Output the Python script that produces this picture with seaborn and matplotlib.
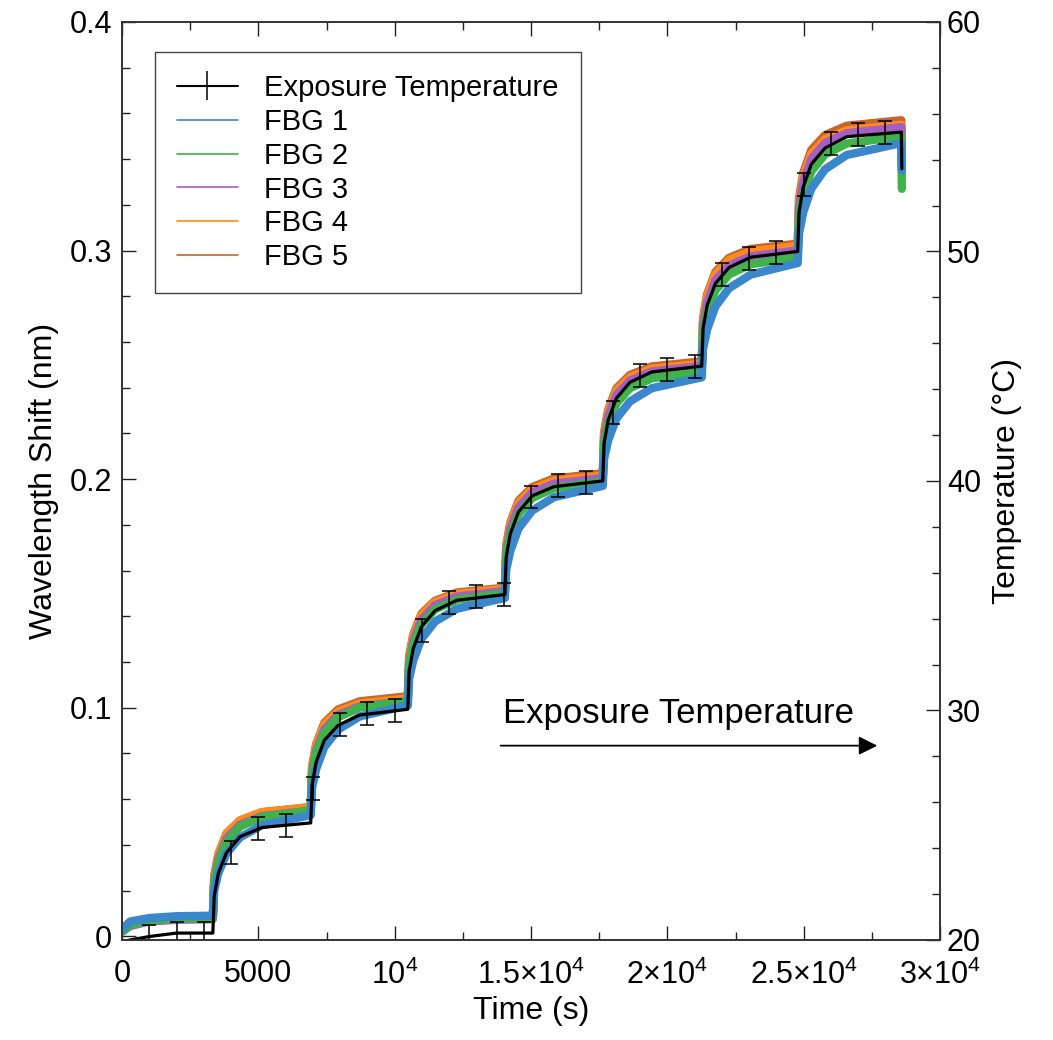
import matplotlib
matplotlib.use('Agg')
import matplotlib.pyplot as plt
from matplotlib.ticker import MultipleLocator, FixedLocator, FixedFormatter
import pandas as pd
import seaborn as sns

# Sample times (s), shared by the FBG records and the exposure temperature
time_s = [0, 300, 1000, 2000, 3320,
          3330, 3380, 3530, 3830, 4330, 5130, 6910,
          6920, 6970, 7120, 7420, 7920, 8720, 10470,
          10480, 10530, 10680, 10980, 11480, 12280, 14030,
          14040, 14090, 14240, 14540, 15040, 15840, 17620,
          17630, 17680, 17830, 18130, 18630, 19430, 21250,
          21260, 21310, 21460, 21760, 22260, 23060, 24770,
          24780, 24830, 24980, 25280, 25780, 26580, 28580,
          28600]

# Wavelength shift (nm) of each grating
fbg1 = [0.003, 0.0065, 0.008, 0.0088, 0.009,
        0.009, 0.020, 0.0275, 0.0363, 0.0433, 0.0486, 0.053,
        0.053, 0.065, 0.0732, 0.0828, 0.0904, 0.0962, 0.101,
        0.101, 0.1128, 0.1207, 0.1301, 0.1377, 0.1433, 0.148,
        0.148, 0.1603, 0.1686, 0.1784, 0.1862, 0.1921, 0.197,
        0.197, 0.2089, 0.217, 0.2265, 0.234, 0.2398, 0.2445,
        0.2445, 0.257, 0.2655, 0.2755, 0.2835, 0.2895, 0.2945,
        0.2945, 0.3076, 0.3166, 0.3271, 0.3355, 0.3418, 0.347,
        0.335]
fbg2 = [0.002, 0.005, 0.007, 0.0078, 0.008,
        0.008, 0.0235, 0.0324, 0.0414, 0.048, 0.0522, 0.055,
        0.055, 0.0708, 0.080, 0.0891, 0.0958, 0.1001, 0.103,
        0.103, 0.1185, 0.1274, 0.1364, 0.143, 0.1472, 0.150,
        0.150, 0.1662, 0.1755, 0.1848, 0.1917, 0.1961, 0.199,
        0.199, 0.2148, 0.224, 0.2331, 0.2398, 0.2441, 0.247,
        0.247, 0.2635, 0.273, 0.2825, 0.2895, 0.294, 0.297,
        0.297, 0.3145, 0.3246, 0.3346, 0.342, 0.3468, 0.350,
        0.327]
fbg3 = [0.002, 0.0045, 0.0065, 0.0072, 0.0075,
        0.0075, 0.0241, 0.0336, 0.0427, 0.0488, 0.0526, 0.055,
        0.055, 0.0718, 0.0814, 0.0905, 0.0968, 0.1006, 0.103,
        0.103, 0.1198, 0.1294, 0.1385, 0.1448, 0.1486, 0.151,
        0.151, 0.1683, 0.1782, 0.1876, 0.1941, 0.1980, 0.2005,
        0.2005, 0.2177, 0.2275, 0.2368, 0.2431, 0.2471, 0.2495,
        0.2495, 0.2672, 0.2773, 0.2869, 0.2934, 0.2975, 0.300,
        0.300, 0.3189, 0.3297, 0.340, 0.347, 0.3513, 0.354,
        0.336]
fbg4 = [0.002, 0.005, 0.0068, 0.0076, 0.008,
        0.008, 0.0259, 0.0356, 0.0449, 0.0507, 0.0543, 0.0565,
        0.0565, 0.0741, 0.0836, 0.0926, 0.0983, 0.1019, 0.104,
        0.104, 0.1218, 0.1314, 0.1405, 0.1462, 0.1498, 0.152,
        0.152, 0.1703, 0.1802, 0.1896, 0.1956, 0.1993, 0.2015,
        0.2015, 0.2196, 0.2294, 0.2387, 0.2446, 0.2483, 0.2505,
        0.2505, 0.2696, 0.2799, 0.2896, 0.2958, 0.2997, 0.302,
        0.302, 0.3216, 0.3322, 0.3423, 0.3486, 0.3526, 0.355,
        0.338]
fbg5 = [0.002, 0.0052, 0.007, 0.008, 0.0085,
        0.0085, 0.0263, 0.0359, 0.0450, 0.0507, 0.0543, 0.0565,
        0.0565, 0.0744, 0.0841, 0.0934, 0.0992, 0.1028, 0.105,
        0.105, 0.1226, 0.1321, 0.1411, 0.1468, 0.1504, 0.1525,
        0.1525, 0.171, 0.181, 0.1905, 0.1965, 0.2003, 0.2025,
        0.2025, 0.2206, 0.2304, 0.2397, 0.2456, 0.2493, 0.2515,
        0.2515, 0.2706, 0.2809, 0.2906, 0.2968, 0.3007, 0.303,
        0.303, 0.323, 0.3338, 0.344, 0.3505, 0.3546, 0.357,
        0.340]

# Exposure temperature (°C)
temp_c = [19.9, 20.0, 20.15, 20.3, 20.3,
          20.3, 21.9, 22.9, 23.8, 24.5, 24.9, 25.1,
          25.1, 26.75, 27.75, 28.7, 29.35, 29.8, 30.05,
          30.05, 31.7, 32.7, 33.65, 34.35, 34.8, 35.05,
          35.05, 36.7, 37.7, 38.65, 39.35, 39.75, 40.0,
          40.0, 41.65, 42.65, 43.6, 44.3, 44.75, 45.0,
          45.0, 46.65, 47.65, 48.6, 49.3, 49.75, 50.0,
          50.0, 51.7, 52.8, 53.8, 54.5, 55.0, 55.2,
          53.6]

# Error-bar samples of the exposure temperature
bar_times = [1000, 2000, 3000, 4000, 5000, 6000, 7000, 8000, 9000, 10000,
             11000, 12000, 13000, 14000, 15000, 16000, 17000, 18000, 19000,
             20000, 21000, 22000, 23000, 24000, 25000, 26000, 27000, 28000]
bar_temps = [20.15, 20.3, 20.3, 23.8, 24.85, 25.0, 26.6, 29.4, 29.85, 30.0,
             33.5, 34.7, 34.95, 35.05, 39.3, 39.8, 39.95, 43.0, 44.6,
             44.85, 45.0, 49.0, 49.7, 49.95, 52.9, 54.7, 55.1, 55.2]
bar_err = 0.5

sensors = ['FBG 1', 'FBG 2', 'FBG 3', 'FBG 4', 'FBG 5']
colors = ['#3a87cc', '#40b24a', '#a45fc2', '#ff8c1a', '#c8652c']
x_ticks = [0, 5000, 10000, 15000, 20000, 25000, 30000]
x_labels = ['0', '5000', r'$10^4$', r'$1.5{\times}10^4$', r'$2{\times}10^4$',
            r'$2.5{\times}10^4$', r'$3{\times}10^4$']

sns.set_style('ticks')
plt.rcParams['font.family'] = ['Liberation Sans', 'DejaVu Sans']
plt.rcParams['mathtext.fontset'] = 'custom'
plt.rcParams['mathtext.rm'] = 'Liberation Sans'
plt.rcParams['mathtext.it'] = 'Liberation Sans:italic'
plt.rcParams['text.color'] = 'black'
plt.rcParams['axes.labelcolor'] = 'black'
plt.rcParams['xtick.labelcolor'] = 'black'
plt.rcParams['ytick.labelcolor'] = 'black'

df = pd.DataFrame({
    'time': time_s * 5,
    'shift': fbg1 + fbg2 + fbg3 + fbg4 + fbg5,
    'sensor': [s for s in sensors for _ in time_s],
})

fig = plt.figure(figsize=(10.53, 10.40), dpi=100)
ax = fig.add_axes([0.1159, 0.0962, 0.7768, 0.8827])

sns.lineplot(data=df, x='time', y='shift', hue='sensor', hue_order=sensors[::-1],
             palette=dict(zip(sensors, colors)), linewidth=6, estimator=None,
             legend=False, ax=ax)

ax2 = ax.twinx()
sns.lineplot(x=time_s, y=temp_c, color='black', linewidth=2.3, estimator=None, ax=ax2)
ax2.errorbar(bar_times, bar_temps, yerr=bar_err, fmt='none', ecolor='black',
             elinewidth=1.1, capsize=5, capthick=1.1)

ax.set_xlim(0, 30000)
ax.set_ylim(-0.0016, 0.4)
ax2.set_ylim(20, 60)

ax.xaxis.set_major_locator(FixedLocator(x_ticks))
ax.xaxis.set_major_formatter(FixedFormatter(x_labels))
ax.xaxis.set_minor_locator(MultipleLocator(2500))
ax.yaxis.set_major_locator(FixedLocator([0, 0.1, 0.2, 0.3, 0.4]))
ax.yaxis.set_major_formatter(FixedFormatter(['0', '0.1', '0.2', '0.3', '0.4']))
ax.yaxis.set_minor_locator(FixedLocator([0.02 * i for i in range(21)]))
ax2.yaxis.set_major_locator(MultipleLocator(10))
ax2.yaxis.set_minor_locator(MultipleLocator(2))

ax.tick_params(which='both', direction='in', top=True, right=False, labelsize=22,
               color='#222222', width=1)
ax.tick_params(axis='x', which='major', length=10, pad=14)
ax.tick_params(axis='y', which='major', length=10, pad=7)
ax.tick_params(which='minor', length=5.5)
ax2.tick_params(which='both', direction='in', labelsize=22, color='#222222', width=1)
ax2.tick_params(which='major', length=10, pad=5)
ax2.tick_params(which='minor', length=5.5)

for a in (ax, ax2):
    for sp in a.spines.values():
        sp.set_linewidth(1.2)
        sp.set_color('#333333')

ax.set_xlabel('Time (s)', fontsize=23, labelpad=4)
ax.set_ylabel('Wavelength Shift (nm)', fontsize=23, labelpad=8)
ax2.set_ylabel('Temperature (°C)', fontsize=23, labelpad=8)

ax.annotate('', xy=(27800, 0.0834), xytext=(13780, 0.0834),
            arrowprops=dict(arrowstyle='-|>', color='black', lw=1.3,
                            mutation_scale=28))
ax.text(20400, 0.0975, 'Exposure Temperature', fontsize=25, ha='center', va='center')

# Legend
proxy = ax2.errorbar([], [], yerr=[], fmt='-', color='black', linewidth=1.5,
                     elinewidth=1.1, capsize=5, capthick=1.1)
handles = [proxy] + [plt.Line2D([], [], color=c, linewidth=1.2) for c in colors]
labels = ['Exposure Temperature'] + sensors
leg = ax2.legend(handles, labels, loc='upper left', bbox_to_anchor=(0.040, 0.967),
                 borderaxespad=0, fontsize=21, frameon=True, fancybox=False,
                 edgecolor='#444444', framealpha=1, handlelength=2.1,
                 handletextpad=0.9, labelspacing=0.2, borderpad=0.75)
leg.get_frame().set_linewidth(1.0)

fig.savefig('out.png', dpi=100)
